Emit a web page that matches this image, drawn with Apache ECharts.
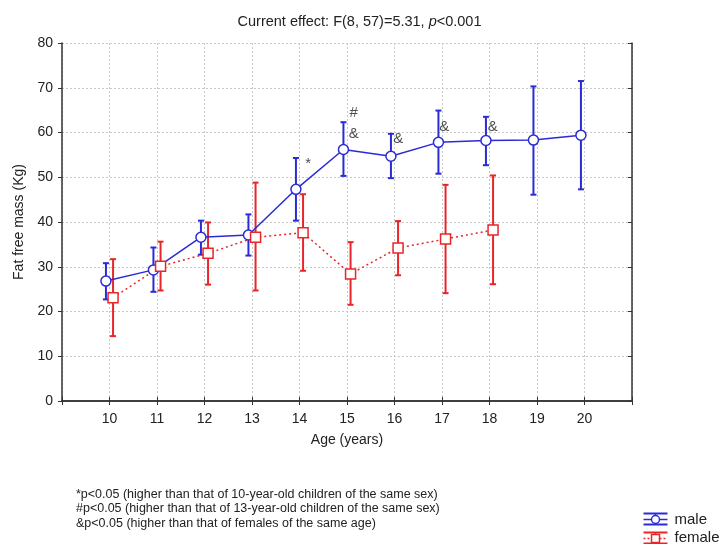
<!DOCTYPE html>
<html>
<head>
<meta charset="utf-8">
<script src="https://cdn.jsdelivr.net/npm/echarts@6/dist/echarts.min.js"></script>
<style>
  html, body { margin: 0; padding: 0; background: #fff; }
  #chart { width: 719px; height: 544px; }
</style>
</head>
<body>
<div id="chart"></div>
<script>
// 数据
var maleAges = [10, 11, 12, 13, 14, 15, 16, 17, 18, 19, 20];
var maleMean = [26.8, 29.3, 36.6, 37.1, 47.3, 56.2, 54.7, 57.8, 58.2, 58.3, 59.4];
var maleUpper = [30.8, 34.3, 40.3, 41.7, 54.3, 62.3, 59.7, 64.9, 63.5, 70.3, 71.5];
var maleLower = [22.7, 24.4, 32.7, 32.5, 40.3, 50.3, 49.8, 50.8, 52.7, 46.1, 47.3];

var femaleAges = [10, 11, 12, 13, 14, 15, 16, 17, 18];
var femaleMean = [23.1, 30.1, 33.0, 36.6, 37.6, 28.4, 34.2, 36.2, 38.2];
var femaleUpper = [31.7, 35.6, 39.9, 48.8, 46.2, 35.5, 40.2, 48.3, 50.4];
var femaleLower = [14.5, 24.7, 26.0, 24.7, 29.1, 21.5, 28.1, 24.1, 26.1];

// 显著性标注
var noteAges = [14.18, 15.14, 15.14, 16.08, 17.05, 18.07];
var noteValues = [52.9, 64.4, 59.8, 58.5, 61.2, 61.2];
var noteTexts = ['*', '#', '&', '&', '&', '&'];

var footnotes = [
  '*p<0.05 (higher than that of 10-year-old children of the same sex)',
  '#p<0.05 (higher than that of 13-year-old children of the same sex)',
  '&p<0.05 (higher than that of females of the same age)'
];

var BLUE = '#2b2bd6';
var RED = '#e8262a';
var FONT = 'Liberation Sans, Arial, sans-serif';
var dodge = 0.075;

var myChart = echarts.init(document.getElementById('chart'));

// 误差线
function errorBar(color) {
  return function (params, api) {
    var x = api.value(0);
    var top = api.coord([x, api.value(2)]);
    var bot = api.coord([x, api.value(1)]);
    var w = 3;
    var st = { stroke: color, lineWidth: 2 };
    return {
      type: 'group',
      children: [
        { type: 'line', shape: { x1: top[0], y1: top[1], x2: bot[0], y2: bot[1] }, style: st },
        { type: 'line', shape: { x1: top[0] - w, y1: top[1], x2: top[0] + w, y2: top[1] }, style: st },
        { type: 'line', shape: { x1: bot[0] - w, y1: bot[1], x2: bot[0] + w, y2: bot[1] }, style: st }
      ]
    };
  };
}

var maleLine = maleAges.map(function (a, i) { return [a - dodge, maleMean[i]]; });
var femaleLine = femaleAges.map(function (a, i) { return [a + dodge, femaleMean[i]]; });
var maleErr = maleAges.map(function (a, i) { return [a - dodge, maleLower[i], maleUpper[i]]; });
var femaleErr = femaleAges.map(function (a, i) { return [a + dodge, femaleLower[i], femaleUpper[i]]; });
var notes = noteAges.map(function (a, i) { return { value: [a, noteValues[i]], name: noteTexts[i] }; });

var axisLine = { show: true, lineStyle: { color: '#333', width: 1.5 } };

var option = {
  animation: false,
  backgroundColor: '#fff',
  textStyle: { fontFamily: FONT },
  title: {
    text: '{a|Current effect: F(8, 57)=5.31, }{i|p}{a|<0.001}',
    left: 'center',
    top: 9,
    textStyle: {
      fontWeight: 'normal',
      rich: {
        a: { fontSize: 14.5, color: '#222', fontWeight: 'normal', fontFamily: FONT },
        i: { fontSize: 14.5, color: '#222', fontWeight: 'normal', fontStyle: 'italic', fontFamily: FONT }
      }
    }
  },
  grid: { left: 62, right: 87, top: 43, bottom: 143 },
  xAxis: [
    {
      type: 'value', min: 9, max: 21, interval: 1,
      name: 'Age (years)', nameLocation: 'middle', nameGap: 32,
      nameTextStyle: { fontSize: 14, color: '#222' },
      axisLine: axisLine,
      axisTick: { show: true, inside: true, length: 4, lineStyle: { color: '#333' } },
      axisLabel: {
        fontSize: 14, color: '#222', margin: 11,
        formatter: function (v) { return (v < 10 || v > 20) ? '' : v; }
      },
      splitLine: { show: true, lineStyle: { color: '#c8c8c8', type: [2, 2] } }
    },
    {
      type: 'value', min: 9, max: 21, interval: 1, position: 'top',
      axisLine: axisLine,
      axisTick: { show: true, inside: true, length: 4, lineStyle: { color: '#333' } },
      axisLabel: { show: false },
      splitLine: { show: false }
    }
  ],
  yAxis: [
    {
      type: 'value', min: 0, max: 80, interval: 10,
      name: 'Fat free mass (Kg)', nameLocation: 'middle', nameGap: 36,
      nameTextStyle: { fontSize: 14, color: '#222' },
      axisLine: axisLine,
      axisTick: { show: true, inside: false, length: 4, lineStyle: { color: '#333' } },
      axisLabel: { fontSize: 14, color: '#222', margin: 9 },
      splitLine: { show: true, lineStyle: { color: '#c8c8c8', type: [2, 2] } }
    },
    {
      type: 'value', min: 0, max: 80, interval: 10, position: 'right',
      axisLine: axisLine,
      axisTick: { show: true, inside: true, length: 4, lineStyle: { color: '#333' } },
      axisLabel: { show: false },
      splitLine: { show: false }
    }
  ],
  series: [
    {
      name: 'male err', type: 'custom', renderItem: errorBar(BLUE),
      data: maleErr, z: 2
    },
    {
      name: 'female err', type: 'custom', renderItem: errorBar(RED),
      data: femaleErr, z: 2
    },
    {
      name: 'male', type: 'line', data: maleLine, z: 3,
      symbol: 'circle', symbolSize: 10,
      itemStyle: { color: '#fff', borderColor: BLUE, borderWidth: 1.5 },
      lineStyle: { color: BLUE, width: 1.5 }
    },
    {
      name: 'female', type: 'line', data: femaleLine, z: 3,
      symbol: 'rect', symbolSize: 10,
      itemStyle: { color: '#fff', borderColor: RED, borderWidth: 1.5 },
      lineStyle: { color: RED, width: 1.5, type: [2, 3] }
    },
    {
      name: 'notes', type: 'scatter', data: notes, symbolSize: 0, z: 4,
      label: {
        show: true, position: 'inside', color: '#222', fontSize: 15,
        formatter: function (p) { return p.name; }
      }
    }
  ],
  graphic: [
    // 脚注
    {
      type: 'text', left: 76, top: 487,
      style: { text: footnotes.join('\n'), fontSize: 12.5, lineHeight: 14.5, fill: '#222', fontFamily: FONT }
    },
    // 图例
    {
      type: 'group', left: 641, top: 511,
      children: [
        { type: 'line', shape: { x1: 0, y1: 1, x2: 24, y2: 1 }, style: { stroke: BLUE, lineWidth: 2 } },
        { type: 'line', shape: { x1: 12, y1: 1, x2: 12, y2: 12 }, style: { stroke: BLUE, lineWidth: 1.5 } },
        { type: 'line', shape: { x1: 0, y1: 7, x2: 24, y2: 7 }, style: { stroke: BLUE, lineWidth: 1.5 } },
        { type: 'line', shape: { x1: 0, y1: 12, x2: 24, y2: 12 }, style: { stroke: BLUE, lineWidth: 2 } },
        { type: 'circle', shape: { cx: 12, cy: 7, r: 4 }, style: { fill: '#fff', stroke: BLUE, lineWidth: 1.5 } },
        { type: 'text', x: 31, y: 0, style: { text: 'male', fontSize: 15, fill: '#222', fontFamily: FONT } },

        { type: 'line', shape: { x1: 0, y1: 20, x2: 24, y2: 20 }, style: { stroke: RED, lineWidth: 2 } },
        { type: 'line', shape: { x1: 12, y1: 20, x2: 12, y2: 31 }, style: { stroke: RED, lineWidth: 1.5 } },
        { type: 'line', shape: { x1: 0, y1: 26, x2: 24, y2: 26 }, style: { stroke: RED, lineWidth: 1.5, lineDash: [2, 2] } },
        { type: 'line', shape: { x1: 0, y1: 31, x2: 24, y2: 31 }, style: { stroke: RED, lineWidth: 2 } },
        { type: 'rect', shape: { x: 8, y: 22, width: 8, height: 8 }, style: { fill: '#fff', stroke: RED, lineWidth: 1.5 } },
        { type: 'text', x: 31, y: 18, style: { text: 'female', fontSize: 15, fill: '#222', fontFamily: FONT } }
      ]
    }
  ]
};

myChart.setOption(option);
</script>
</body>
</html>
